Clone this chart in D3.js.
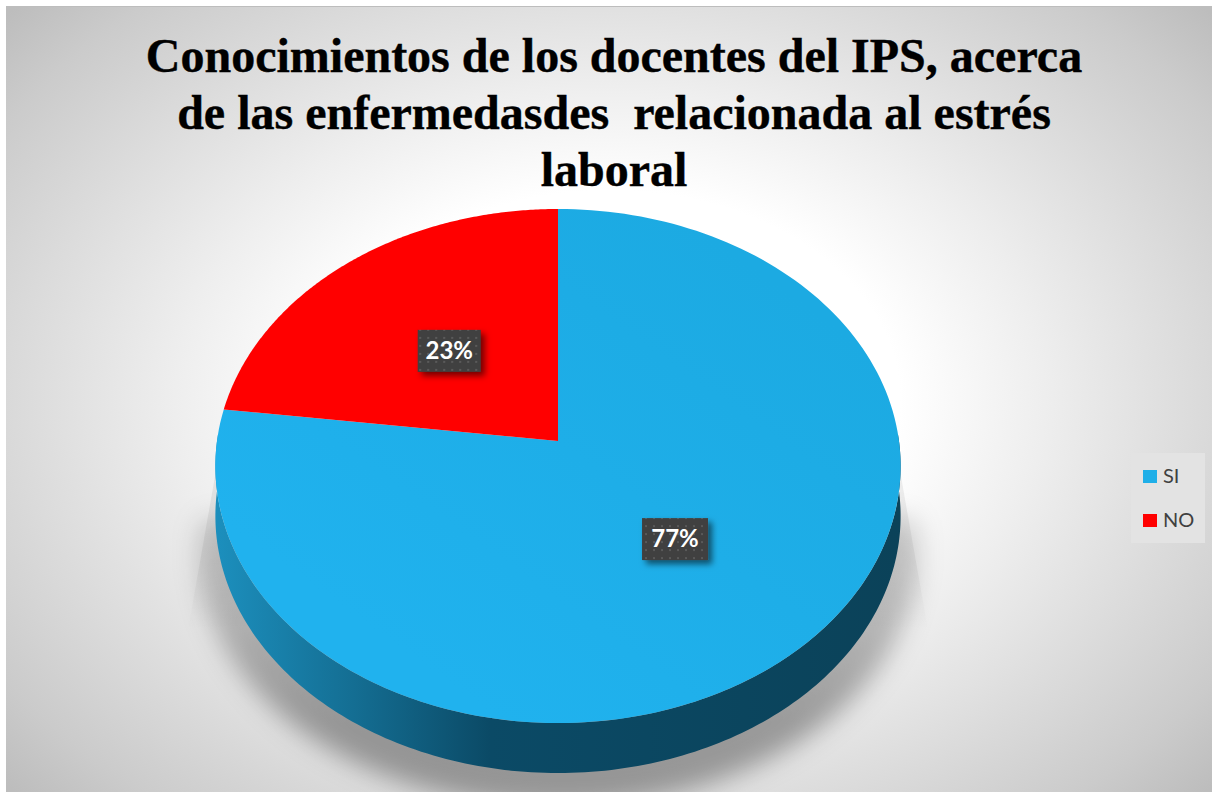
<!DOCTYPE html>
<html><head><meta charset="utf-8">
<script src="https://cdn.jsdelivr.net/npm/d3@7"></script>
<style>html,body{margin:0;padding:0;background:#fff}svg{display:block}</style>
</head><body><div id="c"></div>
<script>
const titleLines = ["Conocimientos de los docentes del IPS, acerca","de las enfermedasdes  relacionada al estrés","laboral"];
const categories = ["SI","NO"];
const values = [77,23];
const colors = ["url(#blue)","#ff0000"];
const legendColors = ["#1fafe8","#ff0000"];
const labels = ["77%","23%"];

const W=1215,H=795;
const svg=d3.select("#c").append("svg").attr("width",W).attr("height",H);
const defs=svg.append("defs");
const bg=defs.append("radialGradient").attr("id","bg").attr("gradientUnits","userSpaceOnUse")
 .attr("cx",0).attr("cy",0).attr("r",1).attr("gradientTransform","translate(610,400) scale(805,582)");
[[0,"#ffffff"],[0.36,"#ffffff"],[0.54,"#eeeeee"],[0.72,"#dcdcdc"],[0.89,"#cbcbcb"],[1,"#bdbdbd"]].forEach(s=>bg.append("stop").attr("offset",s[0]).attr("stop-color",s[1]));
const blue=defs.append("linearGradient").attr("id","blue").attr("gradientUnits","userSpaceOnUse").attr("x1",800).attr("y1",300).attr("x2",500).attr("y2",720);
[[0,"#1caae2"],[1,"#20b2ee"]].forEach(s=>blue.append("stop").attr("offset",s[0]).attr("stop-color",s[1]));
const side=defs.append("linearGradient").attr("id","side").attr("gradientUnits","userSpaceOnUse").attr("x1",216).attr("x2",901).attr("y1",0).attr("y2",0);
[[0,"#1c8fbd"],[0.2,"#146e93"],[0.4,"#0b4a66"],[1,"#0b4259"]].forEach(s=>side.append("stop").attr("offset",s[0]).attr("stop-color",s[1]));
const shGrad=defs.append("linearGradient").attr("id","shGrad").attr("gradientUnits","userSpaceOnUse").attr("x1",0).attr("x2",0).attr("y1",430).attr("y2",720);
[[0,0.1],[0.5,0.2],[1,0.34]].forEach(s=>shGrad.append("stop").attr("offset",s[0]).attr("stop-color","#000").attr("stop-opacity",s[1]));
const wedgeGrad=defs.append("linearGradient").attr("id","wedgeGrad").attr("gradientUnits","userSpaceOnUse").attr("x1",0).attr("x2",0).attr("y1",465).attr("y2",630);
[[0,0.07],[0.6,0.05],[1,0]].forEach(s=>wedgeGrad.append("stop").attr("offset",s[0]).attr("stop-color","#000").attr("stop-opacity",s[1]));
const blur=defs.append("filter").attr("id","blur").attr("x","-20%").attr("y","-20%").attr("width","140%").attr("height","140%");
blur.append("feGaussianBlur").attr("stdDeviation",13);
const ds=defs.append("filter").attr("id","ds").attr("x","-30%").attr("y","-30%").attr("width","170%").attr("height","170%");
ds.append("feDropShadow").attr("dx",4).attr("dy",4).attr("stdDeviation",3).attr("flood-color","#000").attr("flood-opacity",0.55);
const pat=defs.append("pattern").attr("id","dots").attr("width",8).attr("height",8).attr("patternUnits","userSpaceOnUse");
pat.append("rect").attr("width",8).attr("height",8).attr("fill","#404040");
pat.append("rect").attr("x",2).attr("y",2).attr("width",2).attr("height",2).attr("fill","#5a5a5a");
defs.append("clipPath").attr("id","frame").append("rect").attr("x",6).attr("y",6).attr("width",1206).attr("height",786);

svg.append("rect").attr("x",6).attr("y",6).attr("width",1206).attr("height",786).attr("fill","url(#bg)");
svg.append("path").attr("d","M6 6.5H1212").attr("stroke","#bdbdbd").attr("fill","none");

// perspective projection of the unit pie disc
const apexX=558, apexY=441, rx=341, ry=254.6, k=-0.0973, depth=50;
const proj=(a,r=1)=>{const u=r*Math.sin(a),v=-r*Math.cos(a),w=1+k*v;return [apexX+rx*u/w,apexY+ry*v/w];};
const pie=d3.pie().sort(null)(values);
const arcPts=(a0,a1)=>d3.range(0,181).map(i=>proj(a0+(a1-a0)*i/180));
const line=d3.line();

// shadow: faint crisp wedge plus a soft band hugging the wall
const rim=arcPts(Math.PI/2-0.02,Math.PI*1.5+0.02);
const shG=svg.append("g").attr("clip-path","url(#frame)");
const shadow=[[222,440],...rim.map(p=>[p[0]+(p[0]-558)*0.05,p[1]+depth+34]),[896,440]];
shG.append("path").attr("d",line(shadow)+"Z").attr("fill","url(#shGrad)").attr("filter","url(#blur)");
const wedge=[[217,465],[188,630],[928,630],[899,465]];
shG.append("path").attr("d",line(wedge)+"Z").attr("fill","url(#wedgeGrad)");

// side wall
const lower=arcPts(Math.PI/2-0.03,Math.PI*1.5+0.03);
const wall=[...lower,...lower.slice().reverse().map(p=>[p[0],p[1]+depth])];
svg.append("path").attr("d",line(wall)+"Z").attr("fill","url(#side)");

// top slices
const topG=svg.append("g");
topG.selectAll("path").data(pie).join("path")
 .attr("d",d=>line([[apexX,apexY],...arcPts(d.startAngle,d.endAngle)])+"Z")
 .attr("fill",(d,i)=>colors[i]);

// data labels
const lab=svg.append("g");
pie.forEach((d,i)=>{
  const p=proj((d.startAngle+d.endAngle)/2,0.5);
  const g=lab.append("g").attr("transform",`translate(${p[0]},${p[1]+(i?2:-1)})`);
  const w=i?63:66;
  g.append("rect").attr("x",-w/2).attr("y",-21).attr("width",w).attr("height",42).attr("fill","url(#dots)").attr("filter","url(#ds)");
  g.append("text").attr("y",8).attr("text-anchor","middle").attr("font-family","Lato,sans-serif").attr("font-weight",700).attr("font-size",24).attr("fill","#fff").text(labels[i]);
});

// title
svg.append("g").selectAll("text").data(titleLines).join("text")
 .attr("x",614).attr("y",(d,i)=>72+i*57).attr("text-anchor","middle")
 .attr("font-family","'Liberation Serif',serif").attr("font-weight",700).attr("font-size",48).attr("fill","#000")
 .attr("stroke","#000").attr("stroke-width",0.4)
 .style("white-space","pre").text(d=>d);

// legend
svg.append("rect").attr("x",1131).attr("y",453).attr("width",74).attr("height",90).attr("fill","#e3e3e3");
const lg=svg.append("g").selectAll("g").data(categories).join("g").attr("transform",(d,i)=>`translate(1143,${476+i*44})`);
lg.append("rect").attr("y",-6).attr("width",14).attr("height",13).attr("fill",(d,i)=>legendColors[i]);
lg.append("text").attr("x",20).attr("y",7).attr("font-family","Lato,sans-serif").attr("font-size",20).attr("fill","#404040").text(d=>d);
</script></body></html>
